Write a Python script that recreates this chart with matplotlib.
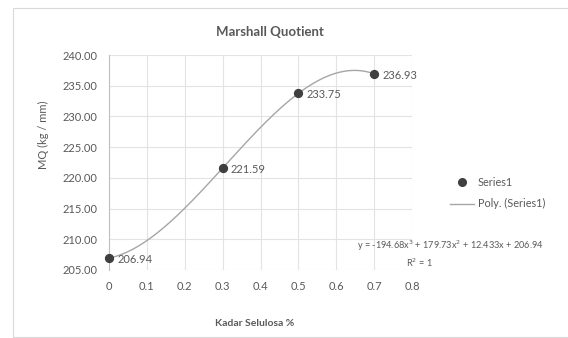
import numpy as np
import matplotlib
matplotlib.use("Agg")
import matplotlib.pyplot as plt
from matplotlib.patches import Rectangle
from matplotlib.lines import Line2D

# Data
kadar = [0, 0.3, 0.5, 0.7]
mq = [206.94, 221.59, 233.75, 236.93]
poly_coef = [-194.68, 179.73, 12.433, 206.94]  # cubic trendline
x_ticks = [0, 0.1, 0.2, 0.3, 0.4, 0.5, 0.6, 0.7, 0.8]
x_tick_labels = ["0", "0.1", "0.2", "0.3", "0.4", "0.5", "0.6", "0.7", "0.8"]
y_ticks = [205, 210, 215, 220, 225, 230, 235, 240]

plt.rcParams["font.family"] = ["Lato", "DejaVu Sans"]
txt = "#595959"

fig = plt.figure(figsize=(5.68, 3.38), dpi=100)
fig.patch.set_facecolor("white")
# chart border
fig.add_artist(Rectangle((13 / 568, 1 - 337 / 338), 1.2, 329 / 338,
                         transform=fig.transFigure, fill=False,
                         edgecolor="#d9d9d9", linewidth=0.8))

ax = fig.add_axes([109 / 568, 1 - 270 / 338, (412 - 109) / 568, (270 - 55) / 338])
ax.set_xlim(0, 0.8)
ax.set_ylim(205, 240)
ax.set_xticks(x_ticks)
ax.set_xticklabels(x_tick_labels)
ax.set_yticks(y_ticks)
ax.set_yticklabels([f"{v:.2f}" for v in y_ticks])
ax.grid(True, color="#e3e3e3", linewidth=0.8)
ax.set_axisbelow(True)
for s in ax.spines.values():
    s.set_visible(False)
ax.spines["left"].set_visible(True)
ax.spines["left"].set_color("#bfbfbf")
ax.tick_params(length=0, labelsize=8, colors=txt, pad=8)

# trendline
xs = np.linspace(0, 0.7, 200)
ax.plot(xs, np.polyval(poly_coef, xs), color="#a6a6a6", linewidth=1.0, zorder=2)
ax.scatter(kadar, mq, s=32, color="#3f3f3f", zorder=3, clip_on=False)
for xv, yv in zip(kadar, mq):
    ax.annotate(f"{yv:.2f}", (xv, yv), xytext=(6, -1), textcoords="offset points",
                ha="left", va="center", fontsize=8, color=txt)

fig.text(255 / 568, 1 - 323 / 338, "Kadar Selulosa %", ha="center", va="center",
         fontsize=7.5, fontweight="bold", color=txt)
fig.text(43 / 568, 1 - 135 / 338, "MQ (kg / mm)", ha="center", va="center",
         rotation=90, fontsize=8, color=txt)
fig.text(270 / 568, 1 - 32 / 338, "Marshall Quotient", ha="center", va="center",
         fontsize=9.5, fontweight="bold", color=txt)

# trendline equation
fig.text(450 / 568, 1 - 246 / 338,
         "y = -194.68x$^3$ + 179.73x$^2$ + 12.433x + 206.94",
         ha="center", va="center", fontsize=6.6, color=txt)
fig.text(419 / 568, 1 - 263 / 338, "R$^2$ = 1", ha="center", va="center",
         fontsize=6.6, color=txt)

# legend
handles = [Line2D([], [], marker="o", linestyle="none", color="#3f3f3f", markersize=5.5),
           Line2D([], [], color="#a6a6a6", linewidth=1.0)]
fig.legend(handles, ["Series1", "Poly. (Series1)"], loc="center left",
           bbox_to_anchor=(440 / 568, 1 - 193 / 338), frameon=False,
           fontsize=7.8, labelcolor=txt, handlelength=2.2, labelspacing=1.0,
           handletextpad=0.4)

fig.savefig("out.png", dpi=100)
